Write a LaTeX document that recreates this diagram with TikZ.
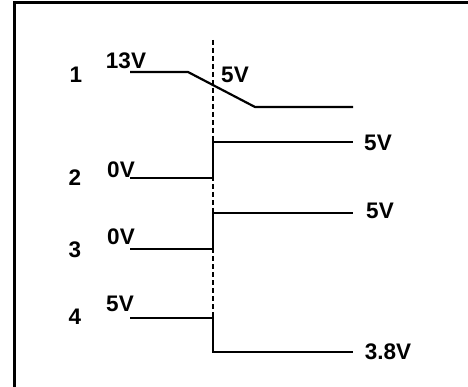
\documentclass[tikz,border=0pt]{standalone}
\usepackage{fontspec}
\setmainfont{Liberation Sans}
\usepackage{tikz}

\begin{document}
\begin{tikzpicture}[x=1pt,y=-1pt,
		signal/.style={line width=2.2pt},
		lbl/.style={inner sep=0pt,font=\fontsize{22.5}{26}\selectfont\bfseries}]
		\useasboundingbox (0,0) rectangle (468,387);
		% frame
		\coordinate (fr1) at (14.5,390);
		\coordinate (fr2) at (14.5,3);
		\coordinate (fr3) at (470,3);
		\draw[line width=3pt] (fr1) -- (fr2) -- (fr3);
		% trigger line
		\coordinate (top) at (213,40);
		\coordinate (bot) at (213,318);
		\draw[line width=2pt,dash pattern=on 5pt off 3pt] (top) -- (bot);
		% signal 1
		\coordinate (a1) at (130,72);
		\coordinate (b1) at (188,72);
		\coordinate (c1) at (255,107);
		\coordinate (d1) at (353,107);
		\draw[signal] (a1) -- (b1) -- (c1) -- (d1);
		% signal 2
		\coordinate (a2) at (130,178);
		\coordinate (b2) at (213,178);
		\coordinate (c2) at (213,142);
		\coordinate (d2) at (353,142);
		\draw[signal] (a2) -- (b2) -- (c2) -- (d2);
		% signal 3
		\coordinate (a3) at (130,249);
		\coordinate (b3) at (213,249);
		\coordinate (c3) at (213,213);
		\coordinate (d3) at (353,213);
		\draw[signal] (a3) -- (b3) -- (c3) -- (d3);
		% signal 4
		\coordinate (a4) at (130,318);
		\coordinate (b4) at (213,318);
		\coordinate (c4) at (213,352);
		\coordinate (d4) at (353,352);
		\draw[signal] (a4) -- (b4) -- (c4) -- (d4);
		% labels
		\node[lbl] (n1) at ([shift={(-54,3)}]a1) {1};
		\node[lbl] (n2) at ([shift={(-55,0)}]a2) {2};
		\node[lbl] (n3) at ([shift={(-55,1)}]a3) {3};
		\node[lbl] (n4) at ([shift={(-55,-1)}]a4) {4};
		\node[lbl] (v1a) at ([shift={(-4,-11)}]a1) {13V};
		\node[lbl] (v1b) at ([shift={(22,3)}]top |- a1) {5V};
		\node[lbl] (v2a) at ([shift={(-9,-8)}]a2) {0V};
		\node[lbl] (v2b) at ([shift={(25,1)}]d2) {5V};
		\node[lbl] (v3a) at ([shift={(-9,-12)}]a3) {0V};
		\node[lbl] (v3b) at ([shift={(27,-2)}]d3) {5V};
		\node[lbl] (v4a) at ([shift={(-10,-14)}]a4) {5V};
		\node[lbl] (v4b) at ([shift={(35,0)}]d4) {3.8V};
	\end{tikzpicture}
\end{document}
